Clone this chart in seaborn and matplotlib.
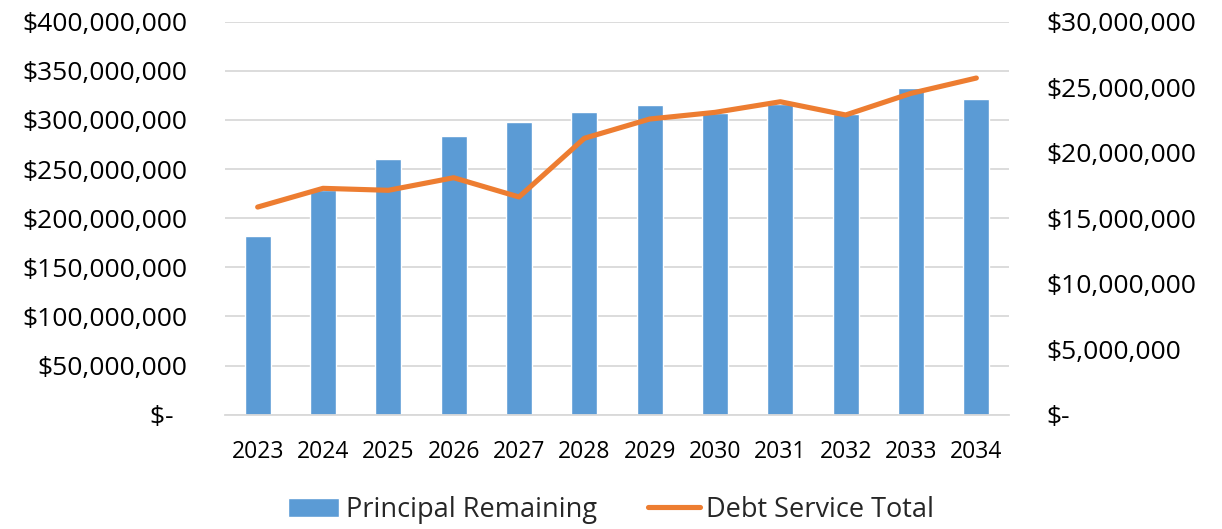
import matplotlib
matplotlib.use("Agg")
import matplotlib.pyplot as plt
import seaborn as sns
import pandas as pd
from matplotlib.ticker import FuncFormatter, MultipleLocator

years = ["2023", "2024", "2025", "2026", "2027", "2028",
         "2029", "2030", "2031", "2032", "2033", "2034"]
principal_remaining = [182e6, 229e6, 260e6, 284e6, 298e6, 308e6,
                       315e6, 307e6, 316e6, 306e6, 333e6, 321e6]
debt_service_total = [15.85e6, 17.28e6, 17.13e6, 18.09e6, 16.62e6, 21.1e6,
                      22.57e6, 23.08e6, 23.89e6, 22.88e6, 24.53e6, 25.70e6]

df = pd.DataFrame({"Year": years,
                   "Principal Remaining": principal_remaining,
                   "Debt Service Total": debt_service_total})

sns.set_theme(style="white")
plt.rcParams["font.family"] = ["Open Sans", "DejaVu Sans"]

BLUE = "#5B9BD5"
ORANGE = "#ED7D31"
GRID = "#D9D9D9"

fig = plt.figure(figsize=(12.22, 5.29), dpi=100)
ax = fig.add_axes([225 / 1222, (529 - 414.7) / 529, (1009 - 225) / 1222, 393 / 529])

sns.barplot(data=df, x="Year", y="Principal Remaining", color=BLUE,
            width=0.4, saturation=1, ax=ax, label="Principal Remaining", zorder=2)

ax2 = ax.twinx()
sns.lineplot(data=df, x="Year", y="Debt Service Total", color=ORANGE,
             linewidth=3.7, ax=ax2, sort=False, label="Debt Service Total",
             solid_capstyle="round", solid_joinstyle="round", zorder=3)

ax.set_xlim(-0.5, len(years) - 0.5)
ax.set_ylim(0, 400e6)
ax2.set_ylim(0, 30e6)
ax.yaxis.set_major_locator(MultipleLocator(50e6))
ax2.yaxis.set_major_locator(MultipleLocator(5e6))


def fmt_left(v, pos):
    if abs(v) < 1:
        return "$-  "
    return "${:,.0f}".format(v)


def fmt_right(v, pos):
    if abs(v) < 1:
        return "$-"
    return "${:,.0f}".format(v)


ax.yaxis.set_major_formatter(FuncFormatter(fmt_left))
ax2.yaxis.set_major_formatter(FuncFormatter(fmt_right))

ax.set_xlabel("")
ax.set_ylabel("")
ax2.set_xlabel("")
ax2.set_ylabel("")

ax.grid(axis="y", color=GRID, linewidth=1.3)
ax.set_axisbelow(True)
ax.grid(axis="x", visible=False)
ax2.grid(False)

for a in (ax, ax2):
    for s in a.spines.values():
        s.set_visible(False)
ax.spines["bottom"].set_visible(True)
ax.spines["bottom"].set_color(GRID)
ax.spines["bottom"].set_linewidth(1.3)

ax.tick_params(axis="y", length=0, pad=27, labelsize=19, labelcolor="#000000")
ax2.tick_params(axis="y", length=0, pad=27, labelsize=19, labelcolor="#000000")
ax.tick_params(axis="x", length=0, pad=18, labelsize=16.5, labelcolor="#000000")

ax.set_zorder(1)
ax2.set_zorder(2)
ax.patch.set_visible(False)
ax2.patch.set_visible(False)

h1, l1 = ax.get_legend_handles_labels()
h2, l2 = ax2.get_legend_handles_labels()
if ax.get_legend() is not None:
    ax.get_legend().remove()
if ax2.get_legend() is not None:
    ax2.get_legend().remove()

fig.legend(h1 + h2, l1 + l2, loc="lower center", bbox_to_anchor=(0.5, -0.036),
           ncol=2, frameon=False, fontsize=19.5, handlelength=1.9,
           handletextpad=0.25, columnspacing=1.9)

fig.savefig("out.png", dpi=100)
